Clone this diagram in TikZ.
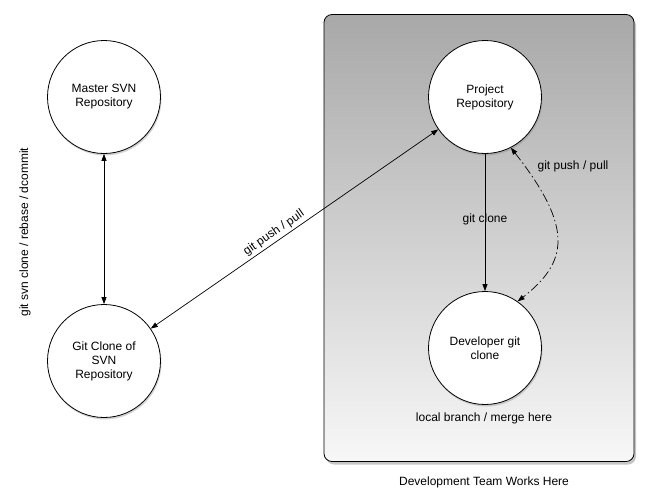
\documentclass[tikz,border=0pt]{standalone}
\usepackage{fontspec}
\setmainfont{Liberation Sans}
\usetikzlibrary{arrows.meta,shadows}
\begin{document}
\begin{tikzpicture}[x=1pt,y=-1pt,
  font=\fontsize{12}{14}\selectfont,
  repo/.style={circle,draw=black,line width=0.8pt,fill=white,minimum size=113pt,inner sep=0pt,align=center,
    drop shadow={shadow xshift=1pt,shadow yshift=-2pt,opacity=0.35}},
  conn/.style={line width=0.7pt,-{Triangle[length=7pt,width=5pt]}},
  biconn/.style={line width=0.7pt,{Triangle[length=7pt,width=5pt]}-{Triangle[length=7pt,width=5pt]}},
  lbl/.style={inner sep=1pt}]
\useasboundingbox (0,0) rectangle (650,496);
\node[draw=black,line width=0.8pt,rounded corners=8pt,minimum width=310pt,minimum height=447pt,
  top color=black!34,bottom color=black!3,
  drop shadow={shadow xshift=2pt,shadow yshift=-3pt,opacity=0.45}] (team) at (479,238) {};
\node[repo] (svn) at (104,97) {Master SVN\\Repository};
\node[repo] (gc) at (104,361) {Git Clone of\\SVN\\Repository};
\node[repo] (pr) at (485,97) {Project\\Repository};
\node[repo] (dv) at (485,348) {Developer git\\clone};
\node[lbl,rotate=90] (svnlbl) at (25,232) {git svn clone / rebase / dcommit};
\node[lbl] (cloneLbl) at (485,219) {git clone};
\node[lbl] (pplbl) at (573,166) {git push / pull};
\node[lbl] (locallbl) at (484,418) {local branch / merge here};
\node[lbl] (teamlbl) at (484,482) {Development Team Works Here};
\draw[biconn] (svn) -- (gc);
\draw[biconn] (gc) -- node[pos=0.445,sloped,above,inner sep=2.5pt] {git push / pull} (pr);
\draw[conn] (pr) -- (dv);
\draw[biconn,dash pattern=on 9pt off 3pt on 1.5pt off 3pt] (pr.-63) .. controls (574,228) and (568,262) .. (dv.55);
\end{tikzpicture}
\end{document}
